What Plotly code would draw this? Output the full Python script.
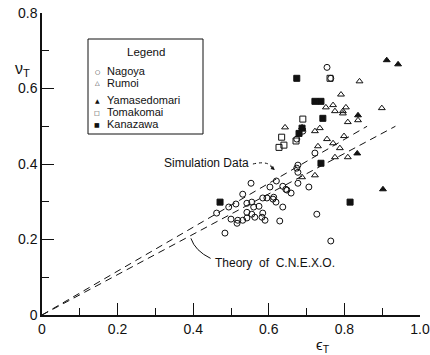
import plotly.graph_objects as go

# ---- data ----
nagoya_x = [0.553, 0.531, 0.603, 0.513, 0.494, 0.462, 0.542, 0.555, 0.560, 0.574,
            0.584, 0.595, 0.611, 0.619, 0.613, 0.637, 0.645, 0.648, 0.659, 0.677,
            0.706, 0.637, 0.542, 0.555, 0.563, 0.542, 0.531, 0.518, 0.516, 0.500,
            0.584, 0.590, 0.582, 0.629, 0.727, 0.484, 0.764, 0.677, 0.722, 0.754,
            0.764, 0.674, 0.690, 0.674, 0.677, 0.620]
nagoya_y = [0.349, 0.320, 0.339, 0.294, 0.286, 0.270, 0.296, 0.299, 0.286, 0.288,
            0.310, 0.310, 0.307, 0.299, 0.312, 0.341, 0.333, 0.331, 0.323, 0.349,
            0.339, 0.286, 0.272, 0.267, 0.259, 0.257, 0.251, 0.251, 0.243, 0.254,
            0.270, 0.251, 0.259, 0.249, 0.267, 0.217, 0.196, 0.397, 0.429, 0.656,
            0.627, 0.466, 0.487, 0.389, 0.378, 0.355]

rumoi_x = [0.840, 0.791, 0.751, 0.770, 0.775, 0.796, 0.804, 0.796, 0.899, 0.809,
           0.643, 0.735, 0.722, 0.730, 0.754, 0.770, 0.799, 0.788, 0.775, 0.809,
           0.688, 0.722, 0.836]
rumoi_y = [0.619, 0.584, 0.550, 0.556, 0.540, 0.540, 0.550, 0.534, 0.548, 0.511,
           0.497, 0.495, 0.487, 0.447, 0.466, 0.455, 0.474, 0.442, 0.418, 0.418,
           0.365, 0.370, 0.516]

yama_x = [0.912, 0.942, 0.836, 0.834, 0.902, 0.688]
yama_y = [0.675, 0.664, 0.529, 0.428, 0.333, 0.497]

toma_x = [0.690, 0.634, 0.627, 0.640, 0.762, 0.672]
toma_y = [0.519, 0.471, 0.444, 0.450, 0.627, 0.461]

kana_x = [0.674, 0.722, 0.738, 0.743, 0.688, 0.680, 0.738, 0.471, 0.815]
kana_y = [0.627, 0.566, 0.566, 0.521, 0.495, 0.481, 0.402, 0.299, 0.299]

sim_x = [0.0, 0.86]
sim_y = [0.0, 0.50]
theory_x = [0.0, 0.935]
theory_y = [0.0, 0.50]

series_names = ["Nagoya", "Rumoi", "Yamasedomari", "Tomakomai", "Kanazawa"]
series_symbols = ["circle-open", "triangle-up-open", "triangle-up", "square-open", "square"]
legend_glyphs = ["○", "△", "▲", "□", "■"]

x_ticks = [0, 0.2, 0.4, 0.6, 0.8, 1.0]
x_ticklabels = ["0", "0.2", "0.4", "0.6", "0.8", "1.0"]
y_ticks = [0, 0.2, 0.4, 0.6, 0.8]
y_ticklabels = ["0", "0.2", "0.4", "0.6", "0.8"]

FONT = "Liberation Sans"
INK = "#111111"

# plot area geometry in pixels (for placing legend/labels in paper units)
L, R, T, B = 42, 10, 13, 40
W, H = 430, 355
PW, PH = W - L - R, H - T - B


def px(xpix):
    return (xpix - L) / PW


def py(ypix):
    return (H - B - ypix) / PH


fig = go.Figure()

fig.add_trace(go.Scatter(x=sim_x, y=sim_y, mode="lines", showlegend=False,
                         line=dict(color=INK, width=1, dash="7px,5px")))
fig.add_trace(go.Scatter(x=theory_x, y=theory_y, mode="lines", showlegend=False,
                         line=dict(color=INK, width=1, dash="7px,5px")))

all_x = [nagoya_x, rumoi_x, yama_x, toma_x, kana_x]
all_y = [nagoya_y, rumoi_y, yama_y, toma_y, kana_y]
for name, sym, xs, ys in zip(series_names, series_symbols, all_x, all_y):
    fig.add_trace(go.Scatter(x=xs, y=ys, mode="markers", name=name, showlegend=False,
                             marker=dict(symbol=sym, size=6, color=INK,
                                         line=dict(color=INK, width=1))))

axis_common = dict(showgrid=False, zeroline=False, showline=True, linecolor=INK,
                   linewidth=1.5, ticks="inside", tickcolor=INK, tickwidth=1,
                   tickfont=dict(family=FONT, size=14, color=INK), mirror=False,
                   automargin=False)

fig.update_xaxes(range=[0, 1.0], tickvals=x_ticks, ticktext=x_ticklabels, ticklen=12,
                 minor=dict(ticks="inside", ticklen=7, dtick=0.1, tick0=0,
                            tickcolor=INK, tickwidth=1),
                 **axis_common)
fig.update_yaxes(range=[0, 0.8], tickvals=y_ticks, ticktext=y_ticklabels, ticklen=12,
                 minor=dict(ticks="inside", ticklen=7, dtick=0.1, tick0=0,
                            tickcolor=INK, tickwidth=1),
                 **axis_common)

# manual legend (box, title, entries)
legend_rows = [71, 83, 100, 112, 124]
annotations = [
    dict(text="Legend", xref="paper", yref="paper", x=px(146), y=py(52),
         xanchor="center", yanchor="middle", showarrow=False,
         font=dict(family=FONT, size=11.5, color=INK)),
]
for name, glyph, row in zip(series_names, legend_glyphs, legend_rows):
    annotations.append(dict(text=glyph, xref="paper", yref="paper", x=px(97), y=py(row),
                            xanchor="center", yanchor="middle", showarrow=False,
                            font=dict(family="DejaVu Sans", size=6, color=INK)))
    annotations.append(dict(text=name, xref="paper", yref="paper", x=px(105), y=py(row),
                            xanchor="left", yanchor="middle", showarrow=False,
                            font=dict(family=FONT, size=11, color=INK)))

annotations += [
    dict(text="ν<sub>T</sub>", xref="paper", yref="paper", x=px(22), y=py(70),
         xanchor="center", yanchor="middle", showarrow=False,
         font=dict(family=FONT, size=16, color=INK)),
    dict(text="ϵ<sub>T</sub>", xref="paper", yref="paper", x=px(323), y=py(345),
         xanchor="center", yanchor="middle", showarrow=False,
         font=dict(family=FONT, size=15, color=INK)),
    dict(text="Simulation Data", xref="x", yref="y", x=0.553, y=0.402,
         xanchor="right", yanchor="middle", showarrow=False,
         font=dict(family=FONT, size=12, color=INK)),
    dict(text="Theory  of  C.N.E.X.O.", xref="x", yref="y", x=0.452, y=0.138,
         xanchor="left", yanchor="middle", showarrow=False,
         font=dict(family=FONT, size=12, color=INK)),
    dict(text="", xref="x", yref="y", x=0.616, y=0.384, ax=-6, ay=-5,
         showarrow=True, arrowhead=2, arrowsize=0.8, arrowwidth=1, arrowcolor=INK),
]

shapes = [
    dict(type="rect", xref="paper", yref="paper", x0=px(88), x1=px(203),
         y0=py(134), y1=py(39), line=dict(color=INK, width=1), fillcolor="white",
         layer="below"),
    dict(type="path", xref="x", yref="y",
         path="M 0.558,0.400 Q 0.600,0.410 0.612,0.388",
         line=dict(color=INK, width=1, dash="dot")),
    dict(type="path", xref="x", yref="y",
         path="M 0.446,0.150 Q 0.405,0.170 0.394,0.203",
         line=dict(color=INK, width=1)),
]

fig.update_layout(
    width=W, height=H,
    margin=dict(l=L, r=R, t=T, b=B),
    paper_bgcolor="white", plot_bgcolor="white",
    font=dict(family=FONT, color=INK),
    showlegend=False,
    annotations=annotations,
    shapes=shapes,
)

fig.write_html("out.html")
